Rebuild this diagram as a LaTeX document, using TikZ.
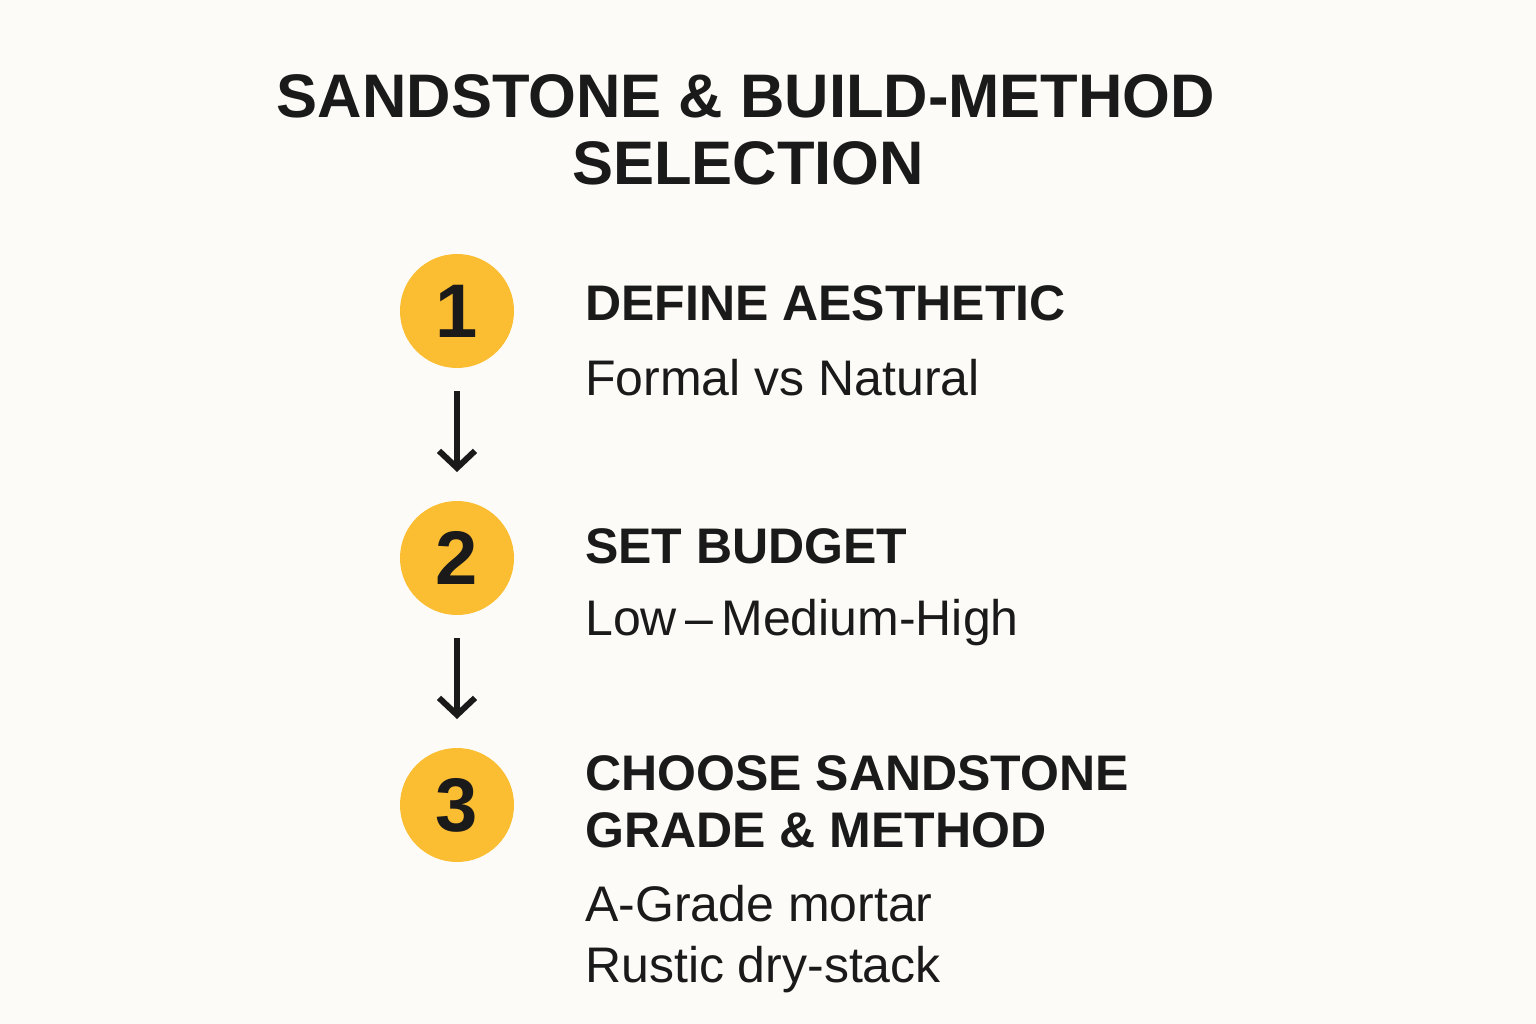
\documentclass[tikz,border=0pt]{standalone}
\usepackage{fontspec}
\setmainfont{Liberation Sans}
\usetikzlibrary{arrows.meta}
\definecolor{bg}{HTML}{FCFBF7}
\definecolor{ink}{HTML}{1A1A1A}
\definecolor{gold}{HTML}{FBBD31}
\tikzset{
  x=1pt, y=-1pt,
  title/.style={anchor=base, inner sep=0pt, text=ink, font=\fontsize{61.5}{61.5}\selectfont\bfseries},
  head/.style={anchor=base west, inner sep=0pt, text=ink, font=\fontsize{50}{50}\selectfont\bfseries},
  sub/.style={anchor=base west, inner sep=0pt, text=ink, font=\fontsize{50}{50}\selectfont},
  numcirc/.style={circle, fill=gold, minimum size=114pt, inner sep=0pt, text=ink, font=\fontsize{76}{76}\selectfont\bfseries},
  flow/.style={draw=ink, line width=6pt, -{Straight Barb[length=17pt, width=36pt, line width=6pt]}}
}
\begin{document}
\begin{tikzpicture}
\useasboundingbox (0,0) rectangle (1536,1024);
\fill[bg] (0,0) rectangle (1536,1024);
\node[title] (t1) at (746,118) {SANDSTONE \& BUILD-METHOD};
\node[title] (t2) at (748,185) {SELECTION};
\node[numcirc] (c1) at (457,311) {1};
\node[numcirc] (c2) at (457,558) {2};
\node[numcirc] (c3) at (457,805) {3};
\coordinate (a1s) at (457,391);
\coordinate (a1e) at (457,472);
\coordinate (a2s) at (457,638);
\coordinate (a2e) at (457,719);
\draw[flow] (a1s) -- (a1e);
\draw[flow] (a2s) -- (a2e);
\node[head] (h1) at (585,320) {DEFINE AESTHETIC};
\node[sub] (s1) at (585,395) {Formal vs Natural};
\node[head] (h2) at (585,563) {SET BUDGET};
\node[sub] (s2) at (585,635) {Low{\,}–{\,}Medium-High};
\node[head] (h3a) at (585,790) {CHOOSE SANDSTONE};
\node[head] (h3b) at (585,847) {GRADE \& METHOD};
\node[sub] (s3a) at (585,921) {A-Grade mortar};
\node[sub] (s3b) at (585,982) {Rustic dry-stack};
\end{tikzpicture}
\end{document}
